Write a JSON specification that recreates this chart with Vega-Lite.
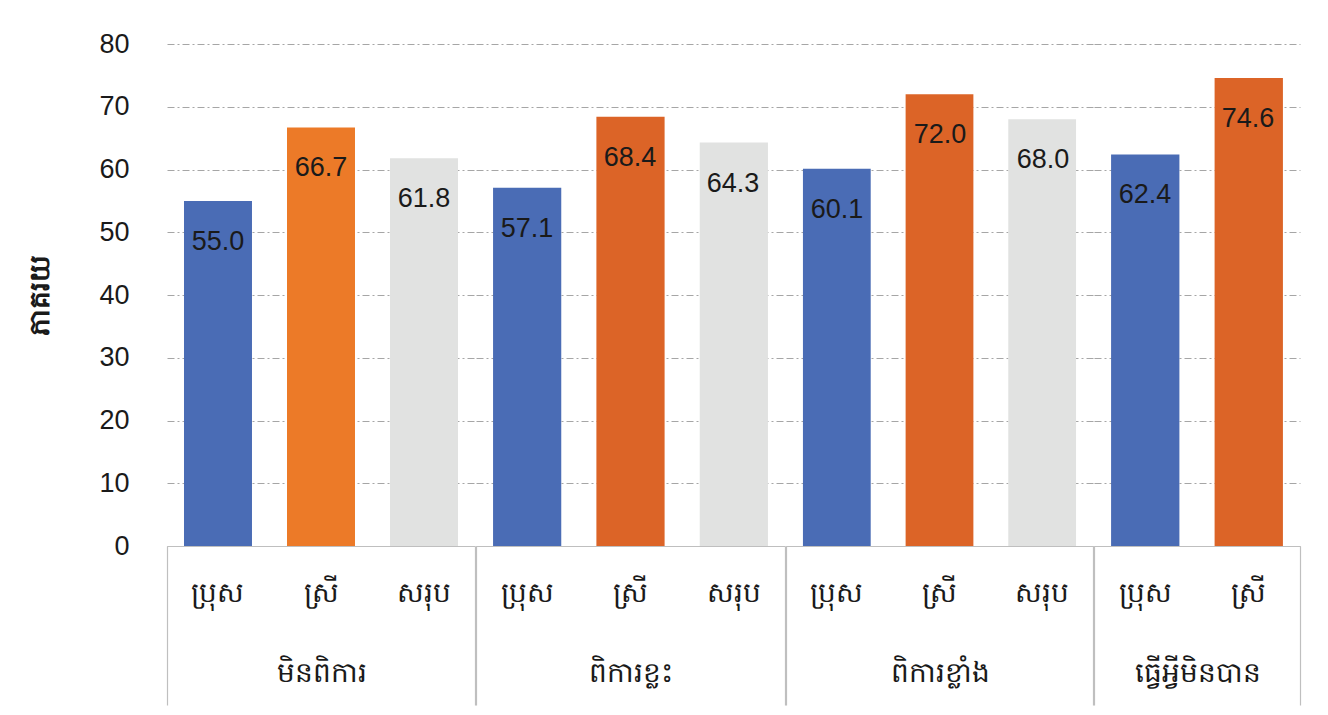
{
  "$schema": "https://vega.github.io/schema/vega-lite/v6.json",
  "background": "white",
  "padding": {"left": 26, "top": 30, "right": 28, "bottom": 8},
  "spacing": -3,
  "datasets": {
    "rows": [
      {"group": "មិនពិការ", "gender": "ប្រុស", "value": 55.0},
      {"group": "មិនពិការ", "gender": "ស្រី", "value": 66.7},
      {"group": "មិនពិការ", "gender": "សរុប", "value": 61.8},
      {"group": "ពិការខ្លះ", "gender": "ប្រុស", "value": 57.1},
      {"group": "ពិការខ្លះ", "gender": "ស្រី", "value": 68.4},
      {"group": "ពិការខ្លះ", "gender": "សរុប", "value": 64.3},
      {"group": "ពិការខ្លាំង", "gender": "ប្រុស", "value": 60.1},
      {"group": "ពិការខ្លាំង", "gender": "ស្រី", "value": 72.0},
      {"group": "ពិការខ្លាំង", "gender": "សរុប", "value": 68.0},
      {"group": "ធ្វើអ្វីមិនបាន", "gender": "ប្រុស", "value": 62.4},
      {"group": "ធ្វើអ្វីមិនបាន", "gender": "ស្រី", "value": 74.6}
    ]
  },
  "data": {"name": "rows"},
  "config": {
    "view": {"stroke": null},
    "font": "Liberation Sans",
    "axis": {"labelFont": "Liberation Sans", "titleFont": "Liberation Sans"}
  },
  "hconcat": [
    {
      "width": 308,
      "height": 502,
      "transform": [{"filter": "datum.group === 'មិនពិការ'"}],
      "layer": [
        {
          "mark": {"type": "bar"},
          "encoding": {
            "x": {"field": "gender", "type": "nominal", "sort": ["ប្រុស", "ស្រី", "សរុប"],
                  "scale": {"type": "band", "paddingInner": 0.34, "paddingOuter": 0.165},
                  "axis": {"title": null, "labelAngle": 0, "labelFontSize": 28, "labelColor": "#1a1a1a", "labelPadding": 33, "ticks": false, "domainColor": "#bfbfbf", "domainWidth": 1.2}},
            "y": {"field": "value", "type": "quantitative", "scale": {"domain": [0, 80], "nice": false},
                  "axis": {"title": "ភាគរយ", "titleFontSize": 28, "titleFontWeight": "bold", "titleColor": "#1a1a1a", "titlePadding": 44,
                           "values": [0, 10, 20, 30, 40, 50, 60, 70, 80], "labelFontSize": 27, "labelColor": "#1a1a1a", "labelPadding": 38,
                           "ticks": false, "domain": false, "grid": true, "gridColor": "#a6a6a6", "gridDash": [7, 3, 2, 3], "gridWidth": 1}},
            "color": {"condition": {"test": "datum.gender === 'ស្រី' && datum.group === 'មិនពិការ'", "value": "#EC7A28"},
                      "field": "gender", "type": "nominal", "legend": null,
                      "scale": {"domain": ["ប្រុស", "ស្រី", "សរុប"], "range": ["#4A6CB5", "#DC6427", "#E1E2E1"]}}
          }
        },
        {
          "mark": {"type": "text", "baseline": "middle", "dy": 41, "fontSize": 27, "color": "#1a1a1a"},
          "encoding": {
            "x": {"field": "group", "type": "nominal", "scale": {"type": "band", "paddingInner": 0, "paddingOuter": 0},
                  "axis": {"title": null, "orient": "bottom", "labelAngle": 0, "labelFontSize": 28, "labelColor": "#1a1a1a", "labelPadding": -46,
                           "tickBand": "extent", "tickSize": 159, "tickColor": "#bfbfbf", "tickWidth": 1.2, "domain": false}},
            "xOffset": {"field": "gender", "type": "nominal", "sort": ["ប្រុស", "ស្រី", "សរុប"], "scale": {"type": "band", "paddingInner": 0.34, "paddingOuter": 0.165}},
            "y": {"field": "value", "type": "quantitative"},
            "text": {"field": "value", "type": "quantitative", "format": ".1f"}
          }
        }
      ],
      "resolve": {"scale": {"x": "independent"}, "axis": {"x": "independent"}}
    },
    {
      "width": 309,
      "height": 502,
      "transform": [{"filter": "datum.group === 'ពិការខ្លះ'"}],
      "layer": [
        {
          "mark": {"type": "bar"},
          "encoding": {
            "x": {"field": "gender", "type": "nominal", "sort": ["ប្រុស", "ស្រី", "សរុប"],
                  "scale": {"type": "band", "paddingInner": 0.34, "paddingOuter": 0.165},
                  "axis": {"title": null, "labelAngle": 0, "labelFontSize": 28, "labelColor": "#1a1a1a", "labelPadding": 33, "ticks": false, "domainColor": "#bfbfbf", "domainWidth": 1.2}},
            "y": {"field": "value", "type": "quantitative", "scale": {"domain": [0, 80], "nice": false},
                  "axis": {"title": null, "values": [0, 10, 20, 30, 40, 50, 60, 70, 80], "labels": false, "ticks": false, "domain": false,
                           "grid": true, "gridColor": "#a6a6a6", "gridDash": [7, 3, 2, 3], "gridWidth": 1}},
            "color": {"field": "gender", "type": "nominal", "legend": null,
                      "scale": {"domain": ["ប្រុស", "ស្រី", "សរុប"], "range": ["#4A6CB5", "#DC6427", "#E1E2E1"]}}
          }
        },
        {
          "mark": {"type": "text", "baseline": "middle", "dy": 41, "fontSize": 27, "color": "#1a1a1a"},
          "encoding": {
            "x": {"field": "group", "type": "nominal", "scale": {"type": "band", "paddingInner": 0, "paddingOuter": 0},
                  "axis": {"title": null, "orient": "bottom", "labelAngle": 0, "labelFontSize": 28, "labelColor": "#1a1a1a", "labelPadding": -46,
                           "tickBand": "extent", "tickSize": 159, "tickColor": "#bfbfbf", "tickWidth": 1.2, "domain": false}},
            "xOffset": {"field": "gender", "type": "nominal", "sort": ["ប្រុស", "ស្រី", "សរុប"], "scale": {"type": "band", "paddingInner": 0.34, "paddingOuter": 0.165}},
            "y": {"field": "value", "type": "quantitative"},
            "text": {"field": "value", "type": "quantitative", "format": ".1f"}
          }
        }
      ],
      "resolve": {"scale": {"x": "independent"}, "axis": {"x": "independent"}}
    },
    {
      "width": 307,
      "height": 502,
      "transform": [{"filter": "datum.group === 'ពិការខ្លាំង'"}],
      "layer": [
        {
          "mark": {"type": "bar"},
          "encoding": {
            "x": {"field": "gender", "type": "nominal", "sort": ["ប្រុស", "ស្រី", "សរុប"],
                  "scale": {"type": "band", "paddingInner": 0.34, "paddingOuter": 0.165},
                  "axis": {"title": null, "labelAngle": 0, "labelFontSize": 28, "labelColor": "#1a1a1a", "labelPadding": 33, "ticks": false, "domainColor": "#bfbfbf", "domainWidth": 1.2}},
            "y": {"field": "value", "type": "quantitative", "scale": {"domain": [0, 80], "nice": false},
                  "axis": {"title": null, "values": [0, 10, 20, 30, 40, 50, 60, 70, 80], "labels": false, "ticks": false, "domain": false,
                           "grid": true, "gridColor": "#a6a6a6", "gridDash": [7, 3, 2, 3], "gridWidth": 1}},
            "color": {"field": "gender", "type": "nominal", "legend": null,
                      "scale": {"domain": ["ប្រុស", "ស្រី", "សរុប"], "range": ["#4A6CB5", "#DC6427", "#E1E2E1"]}}
          }
        },
        {
          "mark": {"type": "text", "baseline": "middle", "dy": 41, "fontSize": 27, "color": "#1a1a1a"},
          "encoding": {
            "x": {"field": "group", "type": "nominal", "scale": {"type": "band", "paddingInner": 0, "paddingOuter": 0},
                  "axis": {"title": null, "orient": "bottom", "labelAngle": 0, "labelFontSize": 28, "labelColor": "#1a1a1a", "labelPadding": -46,
                           "tickBand": "extent", "tickSize": 159, "tickColor": "#bfbfbf", "tickWidth": 1.2, "domain": false}},
            "xOffset": {"field": "gender", "type": "nominal", "sort": ["ប្រុស", "ស្រី", "សរុប"], "scale": {"type": "band", "paddingInner": 0.34, "paddingOuter": 0.165}},
            "y": {"field": "value", "type": "quantitative"},
            "text": {"field": "value", "type": "quantitative", "format": ".1f"}
          }
        }
      ],
      "resolve": {"scale": {"x": "independent"}, "axis": {"x": "independent"}}
    },
    {
      "width": 206,
      "height": 502,
      "transform": [{"filter": "datum.group === 'ធ្វើអ្វីមិនបាន'"}],
      "layer": [
        {
          "mark": {"type": "bar"},
          "encoding": {
            "x": {"field": "gender", "type": "nominal", "sort": ["ប្រុស", "ស្រី"],
                  "scale": {"type": "band", "paddingInner": 0.34, "paddingOuter": 0.165},
                  "axis": {"title": null, "labelAngle": 0, "labelFontSize": 28, "labelColor": "#1a1a1a", "labelPadding": 33, "ticks": false, "domainColor": "#bfbfbf", "domainWidth": 1.2}},
            "y": {"field": "value", "type": "quantitative", "scale": {"domain": [0, 80], "nice": false},
                  "axis": {"title": null, "values": [0, 10, 20, 30, 40, 50, 60, 70, 80], "labels": false, "ticks": false, "domain": false,
                           "grid": true, "gridColor": "#a6a6a6", "gridDash": [7, 3, 2, 3], "gridWidth": 1}},
            "color": {"field": "gender", "type": "nominal", "legend": null,
                      "scale": {"domain": ["ប្រុស", "ស្រី", "សរុប"], "range": ["#4A6CB5", "#DC6427", "#E1E2E1"]}}
          }
        },
        {
          "mark": {"type": "text", "baseline": "middle", "dy": 41, "fontSize": 27, "color": "#1a1a1a"},
          "encoding": {
            "x": {"field": "group", "type": "nominal", "scale": {"type": "band", "paddingInner": 0, "paddingOuter": 0},
                  "axis": {"title": null, "orient": "bottom", "labelAngle": 0, "labelFontSize": 28, "labelColor": "#1a1a1a", "labelPadding": -46,
                           "tickBand": "extent", "tickSize": 159, "tickColor": "#bfbfbf", "tickWidth": 1.2, "domain": false}},
            "xOffset": {"field": "gender", "type": "nominal", "sort": ["ប្រុស", "ស្រី"], "scale": {"type": "band", "paddingInner": 0.34, "paddingOuter": 0.165}},
            "y": {"field": "value", "type": "quantitative"},
            "text": {"field": "value", "type": "quantitative", "format": ".1f"}
          }
        }
      ],
      "resolve": {"scale": {"x": "independent"}, "axis": {"x": "independent"}}
    }
  ]
}
